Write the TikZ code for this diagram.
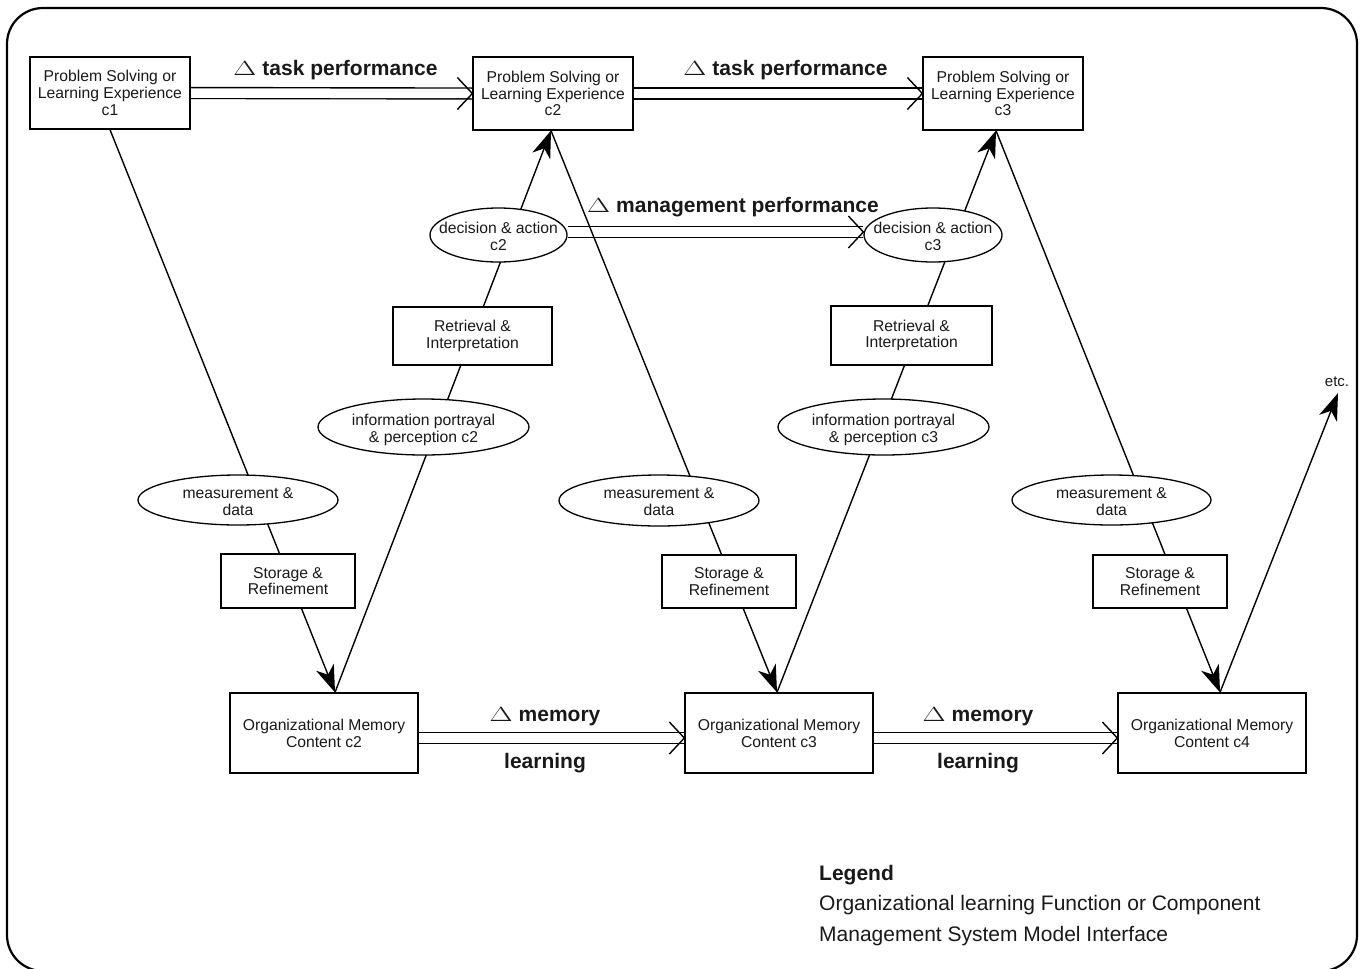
\documentclass[tikz,border=0pt]{standalone}
\usepackage{fontspec}
\usepackage{graphicx}
\setmainfont{Liberation Sans}
\usetikzlibrary{shapes.geometric,arrows.meta,calc,backgrounds}
% two centred lines in a box of no size, so the ellipse keeps its own size
\newcommand{\twolines}[2]{\raisebox{-7bp}[0pt][0pt]{\makebox[0pt]{\begin{tabular}{@{}c@{}}#1\\#2\end{tabular}}}}
% the wide delta in front of the change labels
\newcommand{\chg}{\resizebox{23bp}{14bp}{$\Delta$}\hspace{6bp}}

\begin{document}
\begin{tikzpicture}[x=1bp,y=-1bp,
  every node/.style={inner sep=0pt, text=black!90},
  txt/.style={font=\fontsize{15.7bp}{16.8bp}\selectfont},
  box/.style 2 args={txt, draw, fill=white, line width=1.3bp, align=center,
    minimum width=#1, minimum height=#2},
  oval/.style 2 args={txt, ellipse, draw, fill=white, line width=1.3bp,
    minimum width=#1, minimum height=#2},
  lbl/.style={font=\fontsize{21bp}{24bp}\selectfont\bfseries, anchor=base},
  legend/.style={font=\fontsize{21bp}{24bp}\selectfont, anchor=base west},
  dbl/.style={double, double distance=9.5bp, line width=1.4bp},
  vtip/.style={line width=1.4bp},
  link/.style={line width=1.4bp, -{Stealth[length=27bp,width=19bp,inset=8bp]}}]

\useasboundingbox (0,0) rectangle (1366,968);
\draw[line width=2.2bp, rounded corners=36bp] (7,8) rectangle (1357,971);

% problem solving / learning experiences
\node[box={160bp}{72bp}] (c1) at (110,93) {Problem Solving or\\Learning Experience\\c1};
\node[box={160bp}{73bp}] (c2) at (553,93.5) {Problem Solving or\\Learning Experience\\c2};
\node[box={160bp}{73bp}] (c3) at (1003,93.5) {Problem Solving or\\Learning Experience\\c3};

% decision and action
\node[oval={137bp}{54bp}] (d2) at (498.5,235) {\twolines{decision \& action}{c2}};
\node[oval={138bp}{54bp}] (d3) at (933,235) {\twolines{decision \& action}{c3}};

% retrieval and interpretation
\node[box={159bp}{58bp}] (r2) at (472.5,336) {Retrieval \&\\Interpretation};
\node[box={161bp}{59bp}] (r3) at (911.5,335.5) {Retrieval \&\\Interpretation};

% information portrayal
\node[oval={211bp}{56bp}] (i2) at (423.5,427) {\twolines{information portrayal}{\& perception c2}};
\node[oval={211bp}{56bp}] (i3) at (883.5,427) {\twolines{information portrayal}{\& perception c3}};

% measurement and data
\node[oval={200bp}{50bp}] (m1) at (238,500) {\twolines{measurement \&}{data}};
\node[oval={200bp}{51bp}] (m2) at (659,500.5) {\twolines{measurement \&}{data}};
\node[oval={199bp}{50bp}] (m3) at (1111.5,500) {\twolines{measurement \&}{data}};

% storage and refinement
\node[box={134bp}{54bp}] (s1) at (288,581) {Storage \&\\Refinement};
\node[box={134bp}{53bp}] (s2) at (729,581.5) {Storage \&\\Refinement};
\node[box={134bp}{53bp}] (s3) at (1160,581.5) {Storage \&\\Refinement};

% organizational memory
\node[box={188bp}{80bp}] (o2) at (324,733) {Organizational Memory\\Content c2};
\node[box={188bp}{80bp}] (o3) at (779,733) {Organizational Memory\\Content c3};
\node[box={188bp}{80bp}] (o4) at (1212,733) {Organizational Memory\\Content c4};

\node[font=\fontsize{15bp}{16bp}\selectfont] (etc) at (1337,382) {etc.};

% labels on the double arrows
\node[lbl] (t1) at (335.5,75) {\chg task performance};
\node[lbl] (t2) at (785.5,75) {\chg task performance};
\node[lbl] (mg) at (733,212) {\chg management performance};
\node[lbl] (me1) at (545,721) {\chg memory};
\node[lbl] (le1) at (545,768) {learning};
\node[lbl] (me2) at (978,721) {\chg memory};
\node[lbl] (le2) at (978,768) {learning};

% legend
\node[legend, font=\fontsize{21bp}{24bp}\selectfont\bfseries] (lg0) at (819,880) {Legend};
\node[legend] (lg1) at (819,910) {Organizational learning Function or Component};
\node[legend] (lg2) at (819,941) {Management System Model Interface};

% meeting points of the slanted links and ends of the offset arrows
\coordinate (v2) at ($(o2.north)+(11,0)$);
\coordinate (u2) at ($(c2.south)+(-2,0)$);
\coordinate (v3) at ($(o3.north)+(-2,0)$);
\coordinate (u3) at ($(c3.south)+(-7,0)$);
\coordinate (v4) at ($(o4.north)+(8,0)$);
\coordinate (etip) at ($(etc.south)+(1,6)$);
\coordinate (da) at ($(d2.east)+(0,-3)$);
\coordinate (db) at ($(d3.west)+(0,-3)$);
\coordinate (ma) at ($(o2.east)+(0,5)$);
\coordinate (mb) at ($(o3.west)+(0,5)$);
\coordinate (mc) at ($(o3.east)+(0,5)$);
\coordinate (md) at ($(o4.west)+(0,5)$);

\begin{scope}[on background layer]
  % double arrows
  \draw[dbl] (c1.east) -- (c2.west);
  \draw[dbl] (c2.east) -- (c3.west);
  \draw[dbl] (da) -- (db);
  \draw[dbl] (ma) -- (mb);
  \draw[dbl] (mc) -- (md);
  \foreach \p in {c2.west, c3.west, db, mb, md}
    \draw[vtip] ($(\p)+(-15,-16)$) -- (\p) -- ($(\p)+(-15,16)$);
  % slanted links
  \draw[link] (c1.south) -- (v2);
  \draw[link] (v2) -- (u2);
  \draw[link] (u2) -- (v3);
  \draw[link] (v3) -- (u3);
  \draw[link] (u3) -- (v4);
  \draw[link] (v4) -- (etip);
\end{scope}
\end{tikzpicture}
\end{document}
